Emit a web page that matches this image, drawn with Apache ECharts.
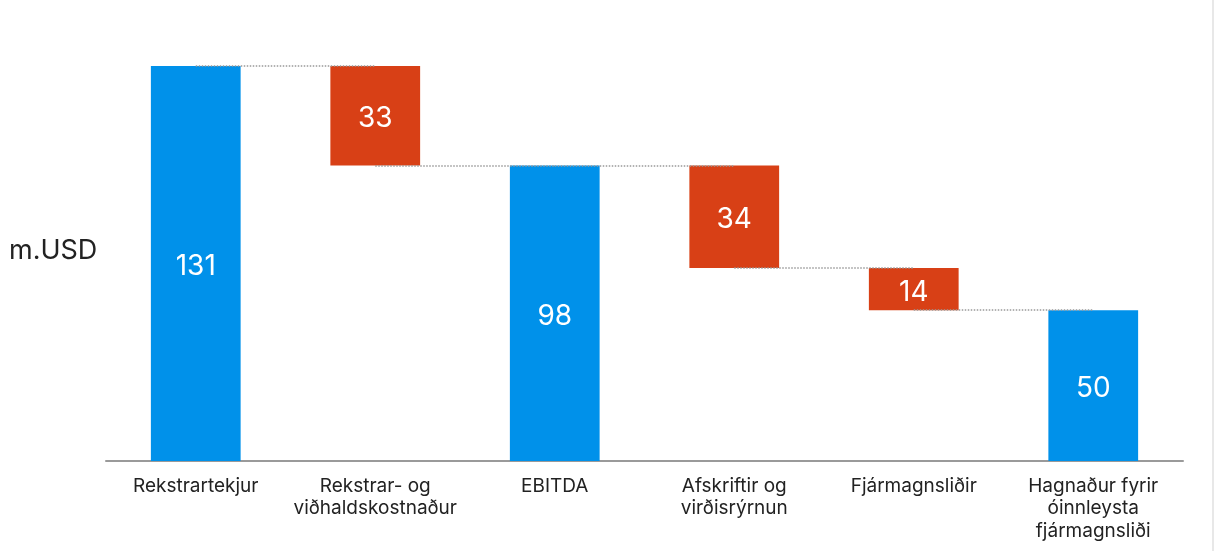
<!DOCTYPE html>
<html><head><meta charset="utf-8">
<script src="https://cdn.jsdelivr.net/npm/echarts@6/dist/echarts.min.js"></script>
<style>html,body{margin:0;padding:0;background:#fff}#c{width:1218px;height:551px}</style>
</head><body><div id="c"></div>
<script>
const categories = ['Rekstrartekjur', 'Rekstrar- og\nviðhaldskostnaður', 'EBITDA', 'Afskriftir og\nvirðisrýrnun', 'Fjármagnsliðir', 'Hagnaður fyrir\nóinnleysta\nfjármagnsliði'];
const totals = [131, null, 98, null, null, 50];
const decreases = [null, 33, null, 34, 14, null];
const yLabel = 'm.USD';

// running level after each step
const levels = [];
let run = 0;
for (let i = 0; i < categories.length; i++) {
  if (totals[i] != null) run = totals[i]; else run = run - decreases[i];
  levels.push(run);
}
const base = categories.map((c, i) => decreases[i] != null ? levels[i] : null);
// connector lines at the top level of each step
const connectors = [];
for (let i = 0; i < categories.length - 1; i++) {
  const lvl = totals[i] != null ? totals[i] : levels[i];
  connectors.push([{ coord: [i, lvl] }, { coord: [i + 1, lvl] }]);
}

const font = 'Inter, "Noto Sans", sans-serif';
const chart = echarts.init(document.getElementById('c'));
chart.setOption({
  animation: false,
  grid: { left: 106, right: 35, top: 66, bottom: 90 },
  xAxis: {
    type: 'category', data: categories,
    axisLine: { lineStyle: { color: '#9a9a9a', width: 2 } },
    axisTick: { show: false },
    axisLabel: { color: '#222', fontSize: 19, fontFamily: font, lineHeight: 22.5, margin: 14, interval: 0 }
  },
  yAxis: { type: 'value', min: 0, max: 131, show: false, splitLine: { show: false } },
  graphic: [
    { type: 'text', x: 9, y: 251, style: { text: yLabel, fontSize: 27, fontFamily: font, fill: '#222', verticalAlign: 'middle' } },
    { type: 'line', shape: { x1: 1213, y1: 0, x2: 1213, y2: 551 }, style: { stroke: '#e8e8e8', lineWidth: 2 } }
  ],
  series: [
    {
      type: 'bar', stack: 'w', data: base, barWidth: '50%', silent: true,
      itemStyle: { color: 'transparent' }
    },
    {
      type: 'bar', stack: 'w', data: decreases, barWidth: '50%',
      itemStyle: { color: '#D84016' },
      label: { show: true, position: 'inside', offset: [0, 3], color: '#fff', fontSize: 28, fontFamily: font }
    },
    {
      type: 'bar', stack: 'w', data: totals, barWidth: '50%',
      itemStyle: { color: '#0091EA' },
      label: { show: true, position: 'inside', offset: [0, 3], color: '#fff', fontSize: 28, fontFamily: font },
      markLine: {
        silent: true, symbol: 'none', label: { show: false },
        lineStyle: { type: 'dotted', color: '#999', width: 1.5 },
        data: connectors
      }
    }
  ]
});
</script></body></html>
